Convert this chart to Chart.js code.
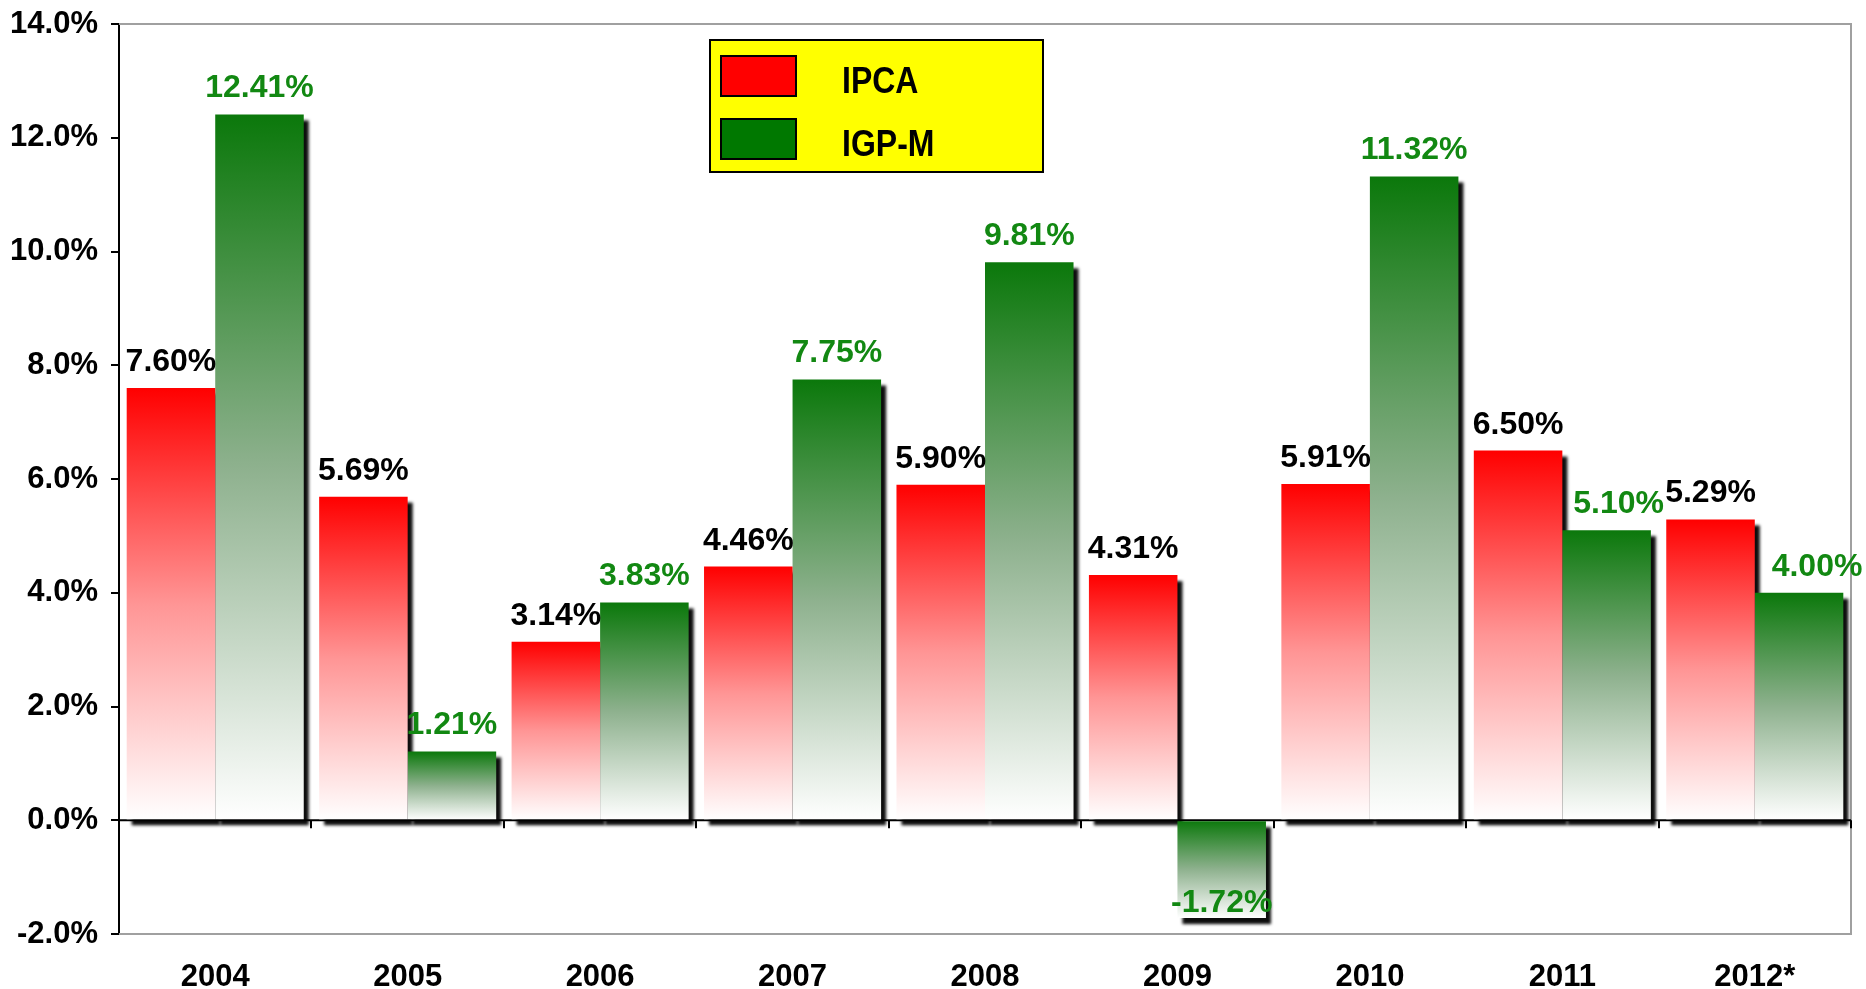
<!DOCTYPE html>
<html>
<head>
<meta charset="utf-8">
<title>IPCA x IGP-M</title>
<script src="https://cdn.jsdelivr.net/npm/chart.js@4/dist/chart.umd.min.js"></script>
<style>
  html, body { margin: 0; padding: 0; background: #fff; }
  #wrap { width: 1866px; height: 989px; position: relative; }
</style>
</head>
<body>
<div id="wrap"><canvas id="chart"></canvas></div>
<script>
const years = ['2004', '2005', '2006', '2007', '2008', '2009', '2010', '2011', '2012*'];
const ipca = [7.60, 5.69, 3.14, 4.46, 5.90, 4.31, 5.91, 6.50, 5.29];
const igpm = [12.41, 1.21, 3.83, 7.75, 9.81, -1.72, 11.32, 5.10, 4.00];
const yMin = -2;
const yMax = 14;
const yStep = 2;

const FONT = "'Liberation Sans', Arial, sans-serif";

// gradient from the bar's top edge down to its bottom edge
function barFill(stops) {
  return (c) => {
    const chart = c.chart;
    const y = chart.scales.y;
    if (!chart.chartArea || !y || c.type !== 'data') return stops[0][1];
    const v = c.raw;
    const y0 = y.getPixelForValue(Math.max(v, 0));
    const y1 = y.getPixelForValue(Math.min(v, 0));
    if (!isFinite(y0) || !isFinite(y1) || y0 === y1) return stops[0][1];
    const g = chart.ctx.createLinearGradient(0, y0, 0, y1);
    stops.forEach(s => g.addColorStop(s[0], s[1]));
    return g;
  };
}

const redStops = [[0, '#ff0000'], [0.5, '#ff9595'], [1, '#ffffff']];
const greenStops = [[0, '#0b780b'], [0.5, '#8eb18e'], [1, '#ffffff']];

// gray frame, zero line, category ticks and the bar shadows (all under the bars)
const frame = {
  id: 'frame',
  beforeDatasetsDraw(chart) {
    const { ctx, chartArea: a, scales } = chart;
    ctx.save();
    ctx.strokeStyle = '#a0a0a0';
    ctx.lineWidth = 2;
    ctx.beginPath();
    ctx.moveTo(a.left, a.top);
    ctx.lineTo(a.right, a.top);
    ctx.lineTo(a.right, a.bottom);
    ctx.lineTo(a.left, a.bottom);
    ctx.stroke();

    const y0 = scales.y.getPixelForValue(0);
    ctx.strokeStyle = '#000';
    ctx.lineWidth = 2;
    ctx.beginPath();
    ctx.moveTo(a.left, y0);
    ctx.lineTo(a.right, y0);
    const xs = scales.x;
    const half = (xs.getPixelForValue(1) - xs.getPixelForValue(0)) / 2;
    for (let i = 0; i <= years.length; i++) {
      const x = Math.round(xs.getPixelForValue(i) - half);
      ctx.moveTo(x, y0);
      ctx.lineTo(x, y0 + 8);
    }
    ctx.stroke();

    // shadows
    ctx.fillStyle = 'rgba(0,0,0,0.95)';
    ctx.filter = 'blur(1.5px)';
    chart.data.datasets.forEach((ds, di) => {
      chart.getDatasetMeta(di).data.forEach(bar => {
        const p = bar.getProps(['x', 'y', 'base', 'width'], true);
        const top = Math.min(p.y, p.base);
        const h = Math.abs(p.base - p.y);
        ctx.fillRect(p.x - p.width / 2 + 5, top + 6, p.width, h);
      });
    });
    ctx.restore();
  }
};

// value labels over the bars; a couple are nudged right like in the original
const labelNudge = { '1-7': 12, '1-8': 18 };
const valueLabels = {
  id: 'valueLabels',
  afterDatasetsDraw(chart) {
    const ctx = chart.ctx;
    ctx.save();
    ctx.font = 'bold 32px ' + FONT;
    ctx.textAlign = 'center';
    ctx.textBaseline = 'alphabetic';
    chart.data.datasets.forEach((ds, di) => {
      const meta = chart.getDatasetMeta(di);
      ctx.fillStyle = ds.labelColor;
      meta.data.forEach((bar, i) => {
        const v = ds.data[i];
        const txt = v.toFixed(2) + '%';
        const dx = labelNudge[di + '-' + i] || 0;
        ctx.fillText(txt, bar.x + dx, v >= 0 ? bar.y - 17 : bar.y - 6);
      });
    });
    ctx.restore();
  }
};

// yellow legend box
const boxLegend = {
  id: 'boxLegend',
  afterDraw(chart) {
    const ctx = chart.ctx;
    const bx = 710, by = 40, bw = 333, bh = 132;
    ctx.save();
    ctx.fillStyle = '#ffff00';
    ctx.fillRect(bx, by, bw, bh);
    ctx.strokeStyle = '#000';
    ctx.lineWidth = 2;
    ctx.strokeRect(bx, by, bw, bh);
    const rows = [76, 139];
    chart.data.datasets.forEach((ds, i) => {
      const cy = rows[i];
      ctx.fillStyle = ds.legendColor;
      ctx.fillRect(721, cy - 20, 75, 40);
      ctx.strokeRect(721, cy - 20, 75, 40);
      ctx.save();
      ctx.translate(842, cy + 7);
      ctx.scale(1, 1.13);
      ctx.fillStyle = '#000';
      ctx.font = 'bold 32px ' + FONT;
      ctx.textAlign = 'left';
      ctx.textBaseline = 'middle';
      ctx.fillText(ds.label, 0, 0);
      ctx.restore();
    });
    ctx.restore();
  }
};

new Chart(document.getElementById('chart'), {
  type: 'bar',
  data: {
    labels: years,
    datasets: [
      {
        label: 'IPCA',
        data: ipca,
        backgroundColor: barFill(redStops),
        legendColor: '#ff0000',
        labelColor: '#000000',
        borderWidth: 0
      },
      {
        label: 'IGP-M',
        data: igpm,
        backgroundColor: barFill(greenStops),
        legendColor: '#007800',
        labelColor: '#128812',
        borderWidth: 0
      }
    ]
  },
  options: {
    responsive: true,
    maintainAspectRatio: false,
    animation: false,
    devicePixelRatio: 1,
    layout: { padding: { top: 24, right: 15, bottom: 0, left: 0 } },
    datasets: {
      bar: { categoryPercentage: 0.92, barPercentage: 1.0 }
    },
    plugins: {
      legend: { display: false },
      tooltip: { enabled: false }
    },
    scales: {
      x: {
        grid: { display: false },
        border: { display: false },
        ticks: {
          color: '#000',
          font: { family: FONT, size: 31, weight: 'bold' },
          padding: 17,
          maxRotation: 0
        },
        afterFit(scale) { scale.height = 55; }
      },
      y: {
        min: yMin,
        max: yMax,
        border: { color: '#000', width: 2 },
        grid: {
          drawOnChartArea: false,
          color: '#000',
          lineWidth: 2,
          tickLength: 8
        },
        ticks: {
          stepSize: yStep,
          color: '#000',
          padding: 13,
          font: { family: FONT, size: 31, weight: 'bold' },
          callback: (v) => v.toFixed(1) + '%'
        },
        afterFit(scale) {
          scale.width = 119;
          scale.paddingTop = 0;
          scale.paddingBottom = 0;
        }
      }
    }
  },
  plugins: [frame, valueLabels, boxLegend]
});
</script>
</body>
</html>
